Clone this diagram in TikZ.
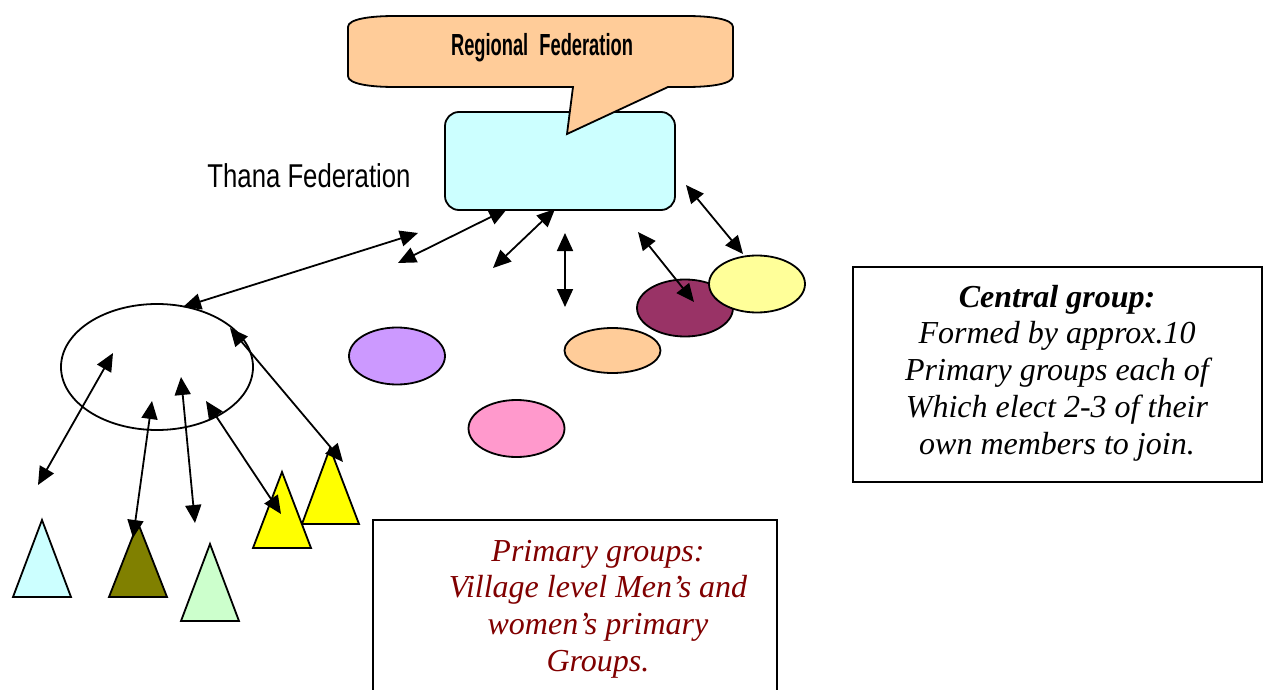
\documentclass[tikz,border=0pt]{standalone}
\usepackage{fontspec}
\setmainfont{Liberation Serif}
\newfontfamily\narrowsans[FakeStretch=0.78]{Liberation Sans}
\newfontfamily\condsans[FakeStretch=0.6]{Liberation Sans Bold}
\usetikzlibrary{arrows.meta,shapes.geometric}

\definecolor{thanafill}{HTML}{CCFFFF}
\definecolor{peachfill}{HTML}{FFCC99}
\definecolor{lilacfill}{HTML}{CC99FF}
\definecolor{pinkfill}{HTML}{FF99CC}
\definecolor{plumfill}{HTML}{993366}
\definecolor{lemonfill}{HTML}{FFFF99}
\definecolor{olivefill}{HTML}{808000}
\definecolor{mintfill}{HTML}{CCFFCC}
\definecolor{brightyellow}{HTML}{FFFF00}
\definecolor{textred}{HTML}{800000}

\tikzset{
  outline/.style={draw=black, line width=1.8pt},
  grp/.style={outline, ellipse, inner sep=0pt, minimum width=96pt, minimum height=57pt},
  link/.style={line width=1.8pt,
    {Triangle[length=18pt,width=16pt]}-{Triangle[length=18pt,width=16pt]}},
  tri/.style={outline, line join=miter},
  notebox/.style={outline},
  notetext/.style={align=center, font=\fontsize{32pt}{36.7pt}\selectfont\itshape, inner sep=0pt}
}

\begin{document}
\begin{tikzpicture}[x=1pt,y=-1pt]
\useasboundingbox (0,0) rectangle (1267,690);

% Thana federation box and label
\node[outline, fill=thanafill, rounded corners=14pt, minimum width=230pt, minimum height=98pt, inner sep=0pt]
  (thana) at (560,161) {};
\node (thanalabel) at (309,176) {\narrowsans\fontsize{33pt}{35pt}\selectfont Thana Federation};

% Regional federation speech bubble, its pointer lying over the box
\draw[outline, fill=peachfill]
  (573,87) -- (567,134) -- (668,87) -- (686,87)
  .. controls (711,87) and (733,84) .. (733,76) -- (733,27)
  .. controls (733,19) and (711,16) .. (686,16) -- (395,16)
  .. controls (370,16) and (348,19) .. (348,27) -- (348,76)
  .. controls (348,84) and (370,87) .. (395,87) -- cycle;
\node (regional) at (542,48) {\condsans\fontsize{30.5pt}{32pt}\selectfont Regional\hspace{6pt} Federation};

% Central group ellipse
\node[outline, ellipse, inner sep=0pt, minimum width=192pt, minimum height=126pt] (central) at (157,367) {};

% Member groups of the central group
\node[grp, fill=lilacfill] (lilac) at (397,356) {};
\node[grp, fill=peachfill, minimum height=45pt] (peach) at (612.5,350.5) {};
\node[grp, fill=pinkfill] (pink) at (516.5,428.5) {};
\node[grp, fill=plumfill] (plum) at (685,308) {};
\node[grp, fill=lemonfill] (lemon) at (757,284) {};

% Primary groups (triangles)
\draw[tri, fill=thanafill] (42,520) coordinate (tcyan) -- (71,597) -- (13,597) -- cycle;
\draw[tri, fill=olivefill] (138,523) coordinate (tolive) -- (167,597) -- (109,597) -- cycle;
\draw[tri, fill=mintfill] (210,544) coordinate (tmint) -- (239,621) -- (181,621) -- cycle;
\draw[tri, fill=brightyellow] (330,448) coordinate (tyellowb) -- (359,524) -- (302,524) -- cycle;
\draw[tri, fill=brightyellow] (282,472) coordinate (tyellowa) -- (311,548) -- (253,548) -- cycle;

% Connector end points
\coordinate (a1) at (418,233);  \coordinate (b1) at (183,307);
\coordinate (a2) at (507,209);  \coordinate (b2) at (398,263);
\coordinate (a3) at (555,209);  \coordinate (b3) at (493,268);
\coordinate (a4) at (565,233);  \coordinate (b4) at (565,307);
\coordinate (a5) at (638,232);  \coordinate (b5) at (694,302);
\coordinate (a6) at (686,185);  \coordinate (b6) at (743,254);
\coordinate (c1) at (113,353);  \coordinate (d1) at (38,485);
\coordinate (c2) at (152,401);  \coordinate (d2) at (133,538);
\coordinate (c3) at (181,377);  \coordinate (d3) at (195,523);
\coordinate (c4) at (206,401);  \coordinate (d4) at (281,514);
\coordinate (c5) at (230,328);  \coordinate (d5) at (343,462);

% Two-way links
\draw[link] (a1) -- (b1);
\draw[link] (a2) -- (b2);
\draw[link] (a3) -- (b3);
\draw[link] (a4) -- (b4);
\draw[link] (a5) -- (b5);
\draw[link] (a6) -- (b6);
\draw[link] (c1) -- (d1);
\draw[link] (c2) -- (d2);
\draw[link] (c3) -- (d3);
\draw[link] (c4) -- (d4);
\draw[link] (c5) -- (d5);

% Explanatory boxes
\draw[notebox] (853,267) rectangle (1262,482);
\node[notetext] (centralnote) at (1057,373)
  {\textbf{Central group:}\\Formed by approx.10\\Primary groups each of\\Which elect 2-3 of their\\own members to join.};

\draw[notebox] (373,700) -- (373,520) -- (777,520) -- (777,700);
\node[notetext, text=textred] (primarynote) at (598,609)
  {Primary groups:\\Village level Men’s and\\women’s primary\\Groups.};
\end{tikzpicture}
\end{document}
